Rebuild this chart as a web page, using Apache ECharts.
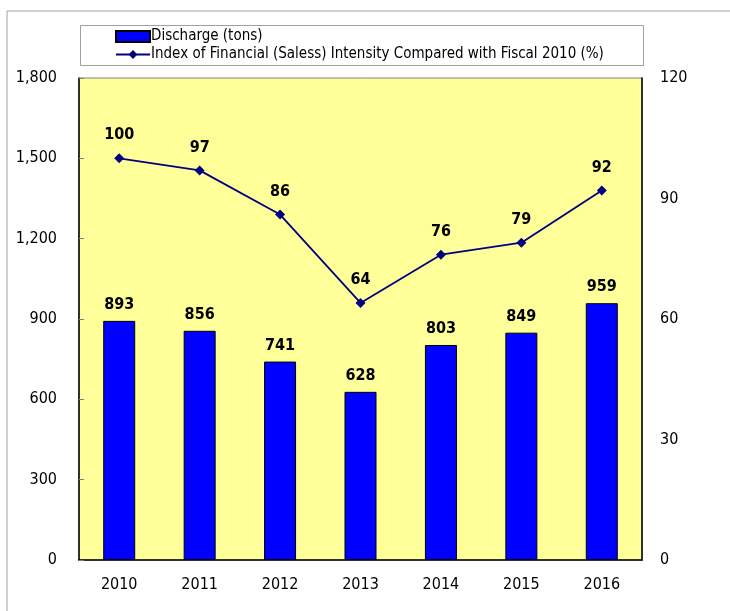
<!DOCTYPE html>
<html>
<head>
<meta charset="utf-8">
<script src="https://cdn.jsdelivr.net/npm/echarts@6/dist/echarts.min.js"></script>
<style>
  html, body { margin: 0; padding: 0; background: #fff; }
  #chart { width: 730px; height: 611px; }
</style>
</head>
<body>
<div id="chart"></div>
<script>
const years = ["2010", "2011", "2012", "2013", "2014", "2015", "2016"];
const discharge = [893, 856, 741, 628, 803, 849, 959];
const intensity = [100, 97, 86, 64, 76, 79, 92];
const leftTicks = { min: 0, max: 1800, interval: 300 };
const rightTicks = { min: 0, max: 120, interval: 30 };

const FONT = '"DejaVu Sans Condensed", "Liberation Sans", sans-serif';

const chart = echarts.init(document.getElementById("chart"));
chart.setOption({
  animation: false,
  textStyle: { fontFamily: FONT },
  graphic: [
    // outer frame lines
    { type: "line", shape: { x1: 7, y1: 11, x2: 730, y2: 11 }, style: { stroke: "#a0a0a0", lineWidth: 1 } },
    { type: "line", shape: { x1: 7, y1: 11, x2: 7, y2: 611 }, style: { stroke: "#a0a0a0", lineWidth: 1 } },
    // legend box
    { type: "rect", shape: { x: 80.5, y: 25.5, width: 563, height: 40 }, style: { fill: "#fff", stroke: "#a0a0a0", lineWidth: 1 }, z: 0 },
  ],
  legend: {
    orient: "vertical",
    left: 115,
    top: 29,
    padding: 0,
    itemGap: 3,
    itemWidth: 34,
    itemHeight: 11,
    textStyle: { fontFamily: FONT, fontSize: 15, color: "#000", padding: [0, 0, 0, -4] },
    data: [
      { name: "Discharge (tons)", icon: "rect" },
      { name: "Index of Financial (Saless) Intensity Compared with Fiscal 2010 (%)" },
    ],
  },
  grid: {
    left: 79,
    right: 88,
    top: 78,
    bottom: 51,
    show: true,
    backgroundColor: "#FFFF99",
    borderColor: "#808080",
    borderWidth: 1,
  },
  xAxis: {
    type: "category",
    data: years,
    axisLine: { lineStyle: { color: "#000", width: 1.5 } },
    axisTick: { inside: true, length: 5, lineStyle: { color: "#808080" } },
    axisLabel: { fontFamily: FONT, fontSize: 16, color: "#000", margin: 17 },
  },
  yAxis: [
    {
      type: "value",
      min: leftTicks.min,
      max: leftTicks.max,
      interval: leftTicks.interval,
      splitLine: { show: false },
      axisLine: { show: true, lineStyle: { color: "#000", width: 1.5 } },
      axisTick: { show: true, inside: true, length: 5, lineStyle: { color: "#808080" } },
      axisLabel: {
        fontFamily: FONT, fontSize: 16, color: "#000", margin: 22,
        formatter: (v) => v.toLocaleString("en-US"),
      },
    },
    {
      type: "value",
      min: rightTicks.min,
      max: rightTicks.max,
      interval: rightTicks.interval,
      splitLine: { show: false },
      axisLine: { show: true, lineStyle: { color: "#000", width: 1.5 } },
      axisTick: { show: false },
      axisLabel: { fontFamily: FONT, fontSize: 16, color: "#000", margin: 18 },
    },
  ],
  series: [
    {
      name: "Discharge (tons)",
      type: "bar",
      data: discharge,
      barWidth: 32,
      itemStyle: { color: "#0000FF", borderColor: "#000", borderWidth: 1 },
      label: {
        show: true,
        position: "top",
        distance: 8,
        fontFamily: FONT,
        fontSize: 16,
        fontWeight: "bold",
        color: "#000",
      },
    },
    {
      name: "Index of Financial (Saless) Intensity Compared with Fiscal 2010 (%)",
      type: "line",
      yAxisIndex: 1,
      data: intensity,
      symbol: "diamond",
      symbolSize: 10,
      lineStyle: { color: "#000080", width: 1.8 },
      itemStyle: { color: "#000080" },
      label: {
        show: true,
        position: "top",
        distance: 10,
        fontFamily: FONT,
        fontSize: 16,
        fontWeight: "bold",
        color: "#000",
      },
    },
  ],
});
</script>
</body>
</html>
